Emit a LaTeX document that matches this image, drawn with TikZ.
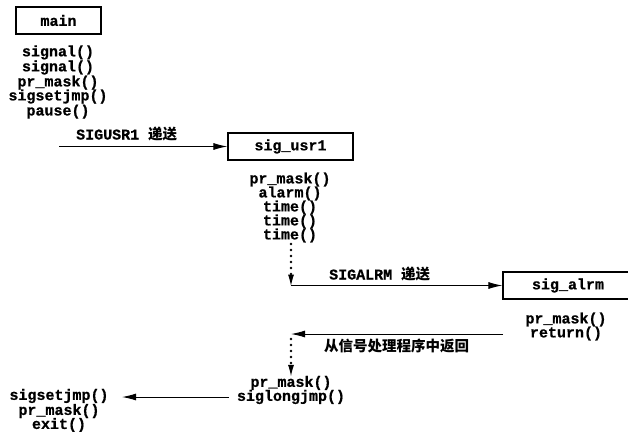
\documentclass[tikz,border=0pt]{standalone}
\usepackage{fontspec}
\setmonofont{Liberation Mono}[BoldFeatures={FakeBold=0.7}]
\newfontfamily\cjk{Noto Sans CJK SC}
\usetikzlibrary{arrows.meta}
\tikzset{
  base/.style={font=\fontsize{15}{14}\selectfont\ttfamily\bfseries, inner sep=0pt},
  box/.style={base, draw, line width=1.2pt, minimum height=27pt},
  list/.style={base, align=center},
  lbl/.style={base, anchor=west},
  arr/.style={line width=1pt, -{Latex[length=14pt,width=7pt]}},
  dotarr/.style={line width=2.8pt, line cap=round, dash pattern=on 0pt off 6pt, -{Latex[length=11pt,width=6pt,line width=0pt]}},
}
\newcommand{\zh}[1]{{\cjk\bfseries\fontsize{14.5}{14.5}\selectfont #1}}
\begin{document}
\begin{tikzpicture}[x=1pt,y=-1pt]
\useasboundingbox (0,0) rectangle (628,431);
\clip (0,0) rectangle (628,431);
\fill[white] (0,0) rectangle (628,431);
% boxes
\node[box, minimum width=85pt] (main) at (58.5,20.5) {main};
\node[box, minimum width=125pt] (usr) at (290.5,146.5) {sig\_usr1};
\node[box, minimum width=130pt] (alrm) at (568,285.5) {sig\_alrm};
% lists
\node[list] (mainlist) at (58,82) {signal()\\signal()\\pr\_mask()\\sigsetjmp()\\pause()};
\node[list] (usrlist) at (290,207.5) {pr\_mask()\\alarm()\\time()\\time()\\time()};
\node[list] (alrmlist) at (566,326.5) {pr\_mask()\\return()};
\node[list] (retlist) at (291,390) {pr\_mask()\\siglongjmp()};
\node[list] (finlist) at (59,410.5) {sigsetjmp()\\pr\_mask()\\exit()};
% labels
\node[lbl] (l1) at (76,134) {SIGUSR1 \zh{递送}};
\node[lbl] (l2) at (329,274) {SIGALRM \zh{递送}};
\node[lbl] (l3) at (324,346) {\zh{从信号处理程序中返回}};
% coordinates
\coordinate (s1) at (59,146.5);
\coordinate (d1) at (291,244);
\coordinate (c1) at (291,285.5);
\coordinate (r1) at (503,334);
\coordinate (r2) at (291,334);
\coordinate (d2) at (291,339);
\coordinate (e1) at (229,397);
\coordinate (e2) at (122,397);
% connectors
\draw[arr] (s1) -- (usr.west);
\draw[dotarr] (d1) -- (c1);
\draw[arr] (c1) -- (c1 -| alrm.west);
\draw[arr] (r1) -- (r2);
\draw[dotarr] (d2) -- (retlist.north);
\draw[arr] (e1) -- (e2);
\end{tikzpicture}
\end{document}
